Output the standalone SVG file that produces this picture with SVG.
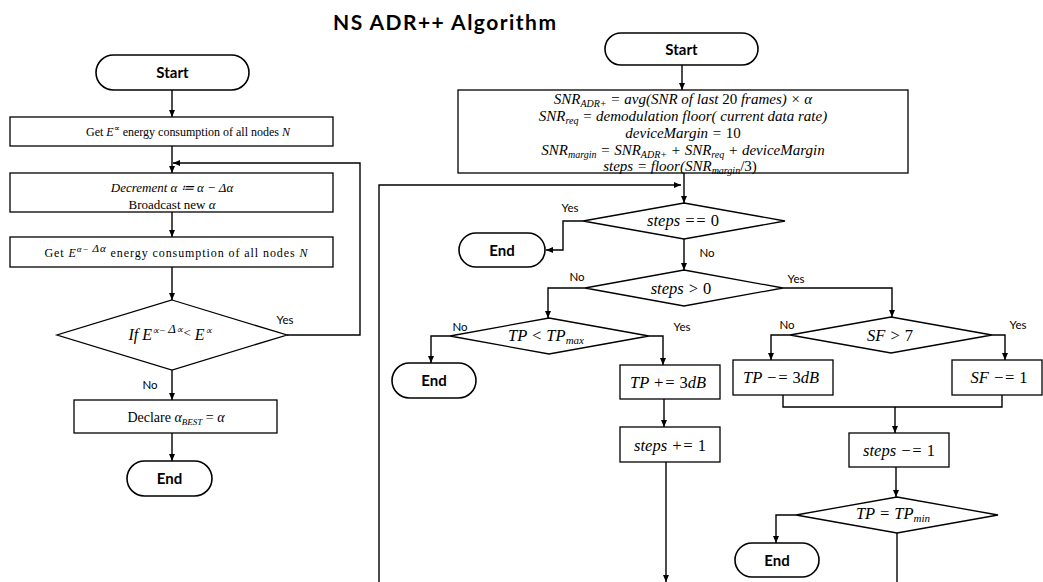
<svg xmlns="http://www.w3.org/2000/svg" width="1043" height="582" viewBox="0 0 1043 582">
<style>
.box{fill:#fff;stroke:#000;stroke-width:1.3}
.term{fill:#fff;stroke:#000;stroke-width:1.6}
.ln{fill:none;stroke:#000;stroke-width:1.4}
.arr{marker-end:url(#ah)}
.lbl{font-family:Lato,"Open Sans",sans-serif;font-size:11.5px;text-anchor:middle}
.tt{font-family:Lato,"Open Sans",sans-serif;font-weight:bold;font-size:15px;text-anchor:middle}
.m{font-family:"Liberation Serif",serif;font-style:italic;text-anchor:middle}
.r{font-family:"Liberation Serif",serif;text-anchor:middle}
.n{font-style:normal}
</style>
<defs>
<marker id="ah" markerUnits="userSpaceOnUse" markerWidth="8" markerHeight="8" refX="7" refY="4" orient="auto">
<path d="M0,1 L7,4 L0,7 z" fill="#000"/>
</marker>
</defs>
<rect width="1043" height="582" fill="#fff"/>
<text x="333" y="30" textLength="223" font-family="Lato, Open Sans, sans-serif" font-weight="bold" font-size="21">NS ADR++ Algorithm</text>

<g id="connectors">
<line class="ln arr" x1="172" y1="90" x2="172" y2="117"/>
<line class="ln arr" x1="172" y1="146" x2="172" y2="173"/>
<polyline class="ln arr" points="287,335 360,335 360,163 173,163"/>
<line class="ln arr" x1="172" y1="212" x2="172" y2="237"/>
<line class="ln arr" x1="172" y1="267" x2="172" y2="300"/>
<line class="ln arr" x1="172" y1="370" x2="172" y2="400"/>
<line class="ln arr" x1="172" y1="433" x2="172" y2="461"/>
<text class="lbl" x="285" y="324">Yes</text>
<text class="lbl" x="150" y="389">No</text>
<line class="ln arr" x1="682" y1="65" x2="682" y2="90"/>
<line class="ln arr" x1="684" y1="173" x2="684" y2="203"/>
<polyline class="ln arr" points="379,582 379,185 681,185"/>
<polyline class="ln arr" points="583,221 563,221 563,250 546,250"/>
<line class="ln arr" x1="684" y1="239" x2="684" y2="270"/>
<polyline class="ln arr" points="585,288 548,288 548,318"/>
<polyline class="ln arr" points="783,288 892,288 892,317"/>
<polyline class="ln arr" points="450,336 431,336 431,363"/>
<polyline class="ln arr" points="649,336 663,336 663,365"/>
<line class="ln arr" x1="664" y1="399" x2="664" y2="427"/>
<line class="ln arr" x1="666" y1="462" x2="666" y2="582"/>
<polyline class="ln arr" points="790,335 771,335 771,360"/>
<polyline class="ln arr" points="992,335 1005,335 1005,360"/>
<polyline class="ln" points="783,395 783,407 1002,407 1002,395"/>
<line class="ln arr" x1="895" y1="407" x2="895" y2="433"/>
<line class="ln arr" x1="896" y1="467" x2="896" y2="497"/>
<polyline class="ln arr" points="796,515 776,515 776,543"/>
<line class="ln" x1="897" y1="533" x2="897" y2="582"/>
<text class="lbl" x="570" y="212">Yes</text>
<text class="lbl" x="707" y="257">No</text>
<text class="lbl" x="577" y="281">No</text>
<text class="lbl" x="796" y="283">Yes</text>
<text class="lbl" x="460" y="331">No</text>
<text class="lbl" x="682" y="331">Yes</text>
<text class="lbl" x="787" y="329">No</text>
<text class="lbl" x="1018" y="329">Yes</text>
</g>

<g id="l-start"><rect class="term" x="96" y="55" width="153" height="35" rx="17.5"/><text class="tt" x="172.5" y="78">Start</text></g>
<g id="l-get1"><rect class="box" x="10" y="117" width="323" height="29"/>
<text class="r" x="188" y="136" font-size="12" textLength="204">Get <tspan font-style="italic">E</tspan><tspan font-size="8" dy="-5">∝</tspan><tspan dy="5"> energy consumption of all nodes </tspan><tspan font-style="italic">N</tspan></text></g>
<g id="l-dec"><rect class="box" x="10" y="173" width="323" height="39"/>
<text class="m" x="172" y="192" font-size="13">Decrement α ≔ α − Δα</text>
<text class="r" x="172" y="209" font-size="13">Broadcast new <tspan font-style="italic">α</tspan></text></g>
<g id="l-get2"><rect class="box" x="10" y="237" width="323" height="30"/>
<text class="r" x="176" y="257" font-size="12" textLength="263">Get <tspan font-style="italic">E</tspan><tspan font-size="9" dy="-5" font-style="italic">α− </tspan><tspan font-size="11" font-style="italic">Δα</tspan><tspan dy="5">  energy consumption of all nodes </tspan><tspan font-style="italic">N</tspan></text></g>
<g id="l-dia"><polygon class="box" points="172,300 287,335 172,370 57,335"/>
<text class="m" x="170" y="340" font-size="16">If E<tspan font-size="10" dy="-6">∝− </tspan><tspan font-size="13" dy="-1">Δ</tspan><tspan font-size="10">∝</tspan><tspan font-size="13" dy="4">&lt; </tspan><tspan dy="3">E</tspan><tspan font-size="10" dy="-6">∝</tspan></text></g>
<g id="l-decl"><rect class="box" x="74" y="400" width="203" height="33"/>
<text class="r" x="176" y="422" font-size="14">Declare <tspan font-style="italic">α</tspan><tspan font-style="italic" font-size="9" dy="3">BEST</tspan><tspan dy="-3"> = </tspan><tspan font-style="italic">α</tspan></text></g>
<g id="l-end"><rect class="term" x="127" y="461" width="85" height="35" rx="17.5"/><text class="tt" x="169.5" y="484">End</text></g>

<g id="r-start"><rect class="term" x="605" y="33" width="153" height="32" rx="16"/><text class="tt" x="681.5" y="55">Start</text></g>
<g id="r-init"><rect class="box" x="458" y="90" width="450" height="83"/>
<text class="m" x="683" y="104" font-size="15">SNR<tspan font-size="10" dy="3">ADR+</tspan><tspan dy="-3"> = avg(SNR of last </tspan><tspan class="n">20</tspan> frames) × α</text>
<text class="m" x="683" y="121" font-size="15">SNR<tspan font-size="10" dy="3">req</tspan><tspan dy="-3"> = demodulation floor( current data rate)</tspan></text>
<text class="m" x="683" y="138" font-size="15">deviceMargin = <tspan class="n">10</tspan></text>
<text class="m" x="683" y="155" font-size="15">SNR<tspan font-size="10" dy="3">margin</tspan><tspan dy="-3"> = SNR</tspan><tspan font-size="10" dy="3">ADR+</tspan><tspan dy="-3"> + SNR</tspan><tspan font-size="10" dy="3">req</tspan><tspan dy="-3"> + deviceMargin</tspan></text>
<text class="m" x="680" y="171" font-size="15">steps = floor(SNR<tspan font-size="10" dy="3">margin</tspan><tspan dy="-3" class="n">/3)</tspan></text></g>
<g id="r-d0"><polygon class="box" points="684,203 785,221 684,239 583,221"/>
<text class="m" x="683" y="226" font-size="16.5">steps == <tspan class="n">0</tspan></text></g>
<g id="r-end1"><rect class="term" x="459" y="233" width="86" height="34" rx="17"/><text class="tt" x="502" y="256">End</text></g>
<g id="r-dgt"><polygon class="box" points="684,270 783,288 684,306 585,288"/>
<text class="m" x="681" y="294" font-size="16.5">steps &gt; <tspan class="n">0</tspan></text></g>
<g id="r-dtp"><polygon class="box" points="549,318 649,336 549,354 450,336"/>
<text class="m" x="546" y="341" font-size="16.5">TP &lt; TP<tspan font-size="11" dy="3">max</tspan></text></g>
<g id="r-end2"><rect class="term" x="392" y="363" width="84" height="35" rx="17.5"/><text class="tt" x="434" y="386">End</text></g>
<g id="r-tpinc"><rect class="box" x="620" y="365" width="100" height="34"/>
<text class="m" x="668" y="388" font-size="16.5">TP += <tspan class="n">3</tspan>dB</text></g>
<g id="r-stinc"><rect class="box" x="620" y="427" width="100" height="35"/>
<text class="m" x="670" y="451" font-size="16.5">steps += <tspan class="n">1</tspan></text></g>
<g id="r-dsf"><polygon class="box" points="891,317 992,335 891,353 790,335"/>
<text class="m" x="890" y="341" font-size="16.5">SF &gt; <tspan class="n">7</tspan></text></g>
<g id="r-tpdec"><rect class="box" x="733" y="360" width="100" height="35"/>
<text class="m" x="781" y="383" font-size="16.5">TP −= <tspan class="n">3</tspan>dB</text></g>
<g id="r-sfdec"><rect class="box" x="952" y="360" width="90" height="35"/>
<text class="m" x="999" y="383" font-size="16.5">SF −= <tspan class="n">1</tspan></text></g>
<g id="r-stdec"><rect class="box" x="849" y="433" width="100" height="34"/>
<text class="m" x="899" y="456" font-size="16.5">steps −= <tspan class="n">1</tspan></text></g>
<g id="r-dmin"><polygon class="box" points="897,497 998,515 897,533 796,515"/>
<text class="m" x="893" y="519" font-size="16.5">TP = TP<tspan font-size="11" dy="3">min</tspan></text></g>
<g id="r-end3"><rect class="term" x="735" y="543" width="84" height="34" rx="17"/><text class="tt" x="777" y="566">End</text></g>
</svg>
